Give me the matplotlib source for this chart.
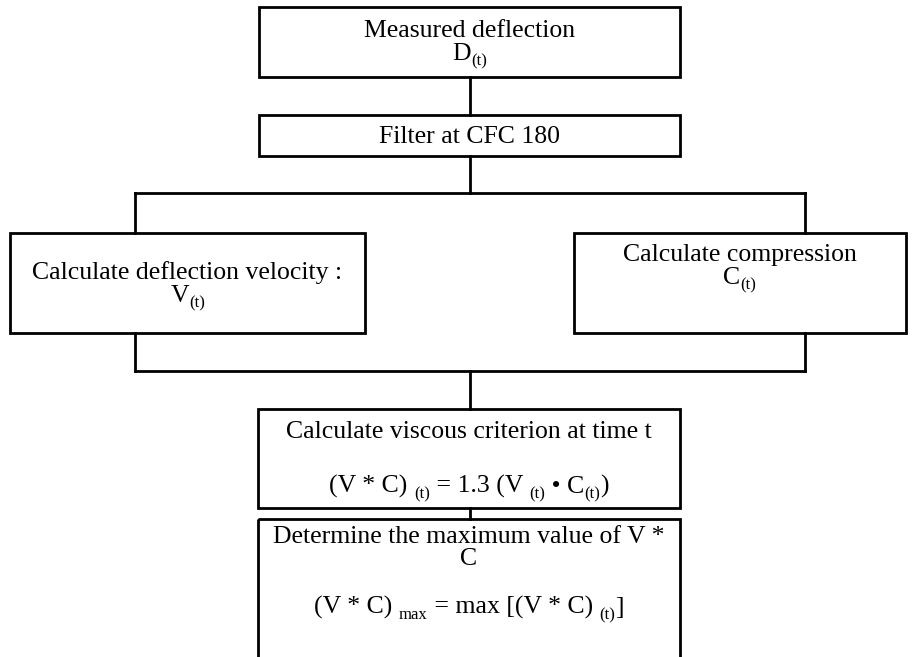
import matplotlib.pyplot as plt
from matplotlib.patches import Rectangle

plt.rcParams['font.family'] = ['Liberation Serif', 'DejaVu Serif']

# step texts (top to bottom, left then right); each line is a list of
# (text, is_subscript) pieces
measured = [[("Measured deflection", False)], [("D", False), ("(t)", True)]]
filt = [[("Filter at CFC 180", False)]]
velocity = [[("Calculate deflection velocity :", False)],
            [("V", False), ("(t)", True)]]
compression = [[("Calculate compression", False)],
               [("C", False), ("(t)", True)]]
viscous = [[("Calculate viscous criterion at time t", False)],
           [("(V * C) ", False), ("(t)", True), (" = 1.3 (V ", False),
            ("(t)", True), (" \u2022 C", False), ("(t)", True), (")", False)]]
maximum = [[("Determine the maximum value of V *", False)],
           [("C", False)],
           [("(V * C) ", False), ("max", True), (" = max [(V * C) ", False),
            ("(t)", True), ("]", False)]]

# box layout in pixels: x0, y0, x1, y1 and the baseline y of each text line
boxes = [
    (measured, (259, 7, 680, 77), [37, 60]),
    (filt, (259, 115, 680, 156), [143]),
    (velocity, (10, 233, 365, 333), [279, 302]),
    (compression, (574, 233, 906, 333), [261, 284]),
    (viscous, (258, 409, 680, 508), [438, 493]),
    (maximum, (258, 519, 680, 700), [543, 565, 614]),
]

fig = plt.figure(figsize=(9.16, 6.57), dpi=100)
ax = fig.add_axes([0, 0, 1, 1])
ax.set_xlim(0, 916)
ax.set_ylim(657, 0)
ax.axis('off')
renderer = fig.canvas.get_renderer()

lw = 2.0
fs = 18.5
fs_sub = 12


def put_line(cx, y, pieces):
    texts = []
    x = 0
    for s, sub in pieces:
        t = ax.text(x, y + (5 if sub else 0), s, ha='left', va='baseline',
                    fontsize=fs_sub if sub else fs, color='black')
        w = t.get_window_extent(renderer).width
        texts.append((t, x))
        x += w
    left = cx - x / 2
    for t, off in texts:
        t.set_x(left + off)


for lines, (x0, y0, x1, y1), ys in boxes:
    ax.add_patch(Rectangle((x0, y0), x1 - x0, y1 - y0, fill=False,
                           edgecolor='black', lw=lw))
    for pieces, ty in zip(lines, ys):
        put_line((x0 + x1) / 2, ty, pieces)

# connectors
cx = 470
segs = [
    ([cx, cx], [77, 115]),
    ([cx, cx], [156, 193]),
    ([135, 805], [193, 193]),
    ([135, 135], [193, 233]),
    ([805, 805], [193, 233]),
    ([135, 135], [333, 371]),
    ([805, 805], [333, 371]),
    ([135, 805], [371, 371]),
    ([cx, cx], [371, 409]),
    ([cx, cx], [508, 519]),
]
for xs, ys in segs:
    ax.plot(xs, ys, color='black', lw=lw, solid_capstyle='projecting')

fig.savefig("out.png", dpi=100)
